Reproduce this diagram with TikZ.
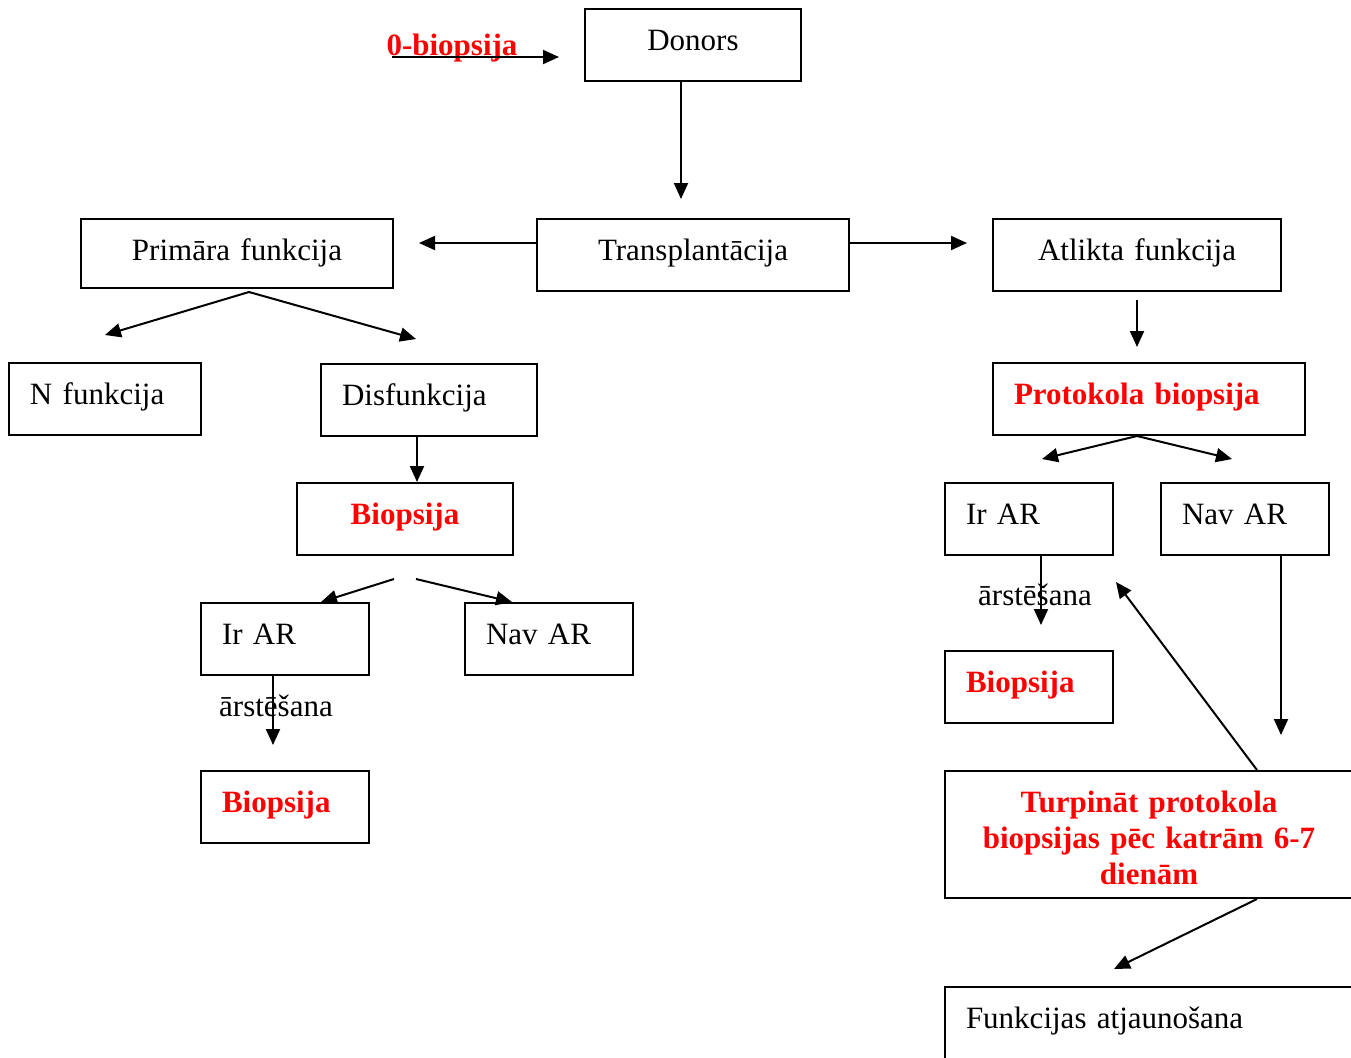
\documentclass[tikz,border=0pt]{standalone}
\usepackage{fontspec}
\setmainfont{Liberation Serif}
\usetikzlibrary{arrows.meta}
\newcommand{\teksts}{\fontsize{15.5pt}{18pt}\selectfont}

\begin{document}
\begin{tikzpicture}[x=0.5pt, y=-0.5pt, font=\teksts, >={Triangle[length=8pt, width=7pt]},
    kaste/.style={rectangle, draw=black, line width=1pt, inner xsep=10.5pt, inner ysep=0pt,
                  text height=20.5pt, text depth=15.5pt, align=left},
    sarkans/.style={text=red, font=\teksts\bfseries},
    bulta/.style={->, line width=1pt, draw=black},
    uzraksts/.style={inner sep=0pt}]

    \path [use as bounding box] (0,0) rectangle (1351,1057);
    \clip (0,0) rectangle (1351,1057);

    % ---------------- kastes ----------------
    \node (donors)  [kaste, text width=87pt, align=center]  at (693,45)   {Donors};
    \node (transpl) [kaste, text width=135pt, align=center] at (693,255)  {Transplantācija};
    \node (primara) [kaste, text width=135pt, align=center, text depth=14pt] at (237,253.5) {Primāra funkcija};
    \node (atlikta) [kaste, text width=123pt, align=center] at (1137,255) {Atlikta funkcija};
    \node (nfunk)   [kaste, text width=75pt]                at (105,399)  {N funkcija};
    \node (disf)    [kaste, text width=87pt]                at (429,400)  {Disfunkcija};
    \node (prot)    [kaste, sarkans, text width=135pt]      at (1149,399) {Protokola biopsija};
    \node (biop1)   [kaste, sarkans, text width=87pt, align=center] at (405,519) {Biopsija};
    \node (irA1)    [kaste, text width=63pt]                at (285,639)  {Ir AR};
    \node (navA1)   [kaste, text width=63pt]                at (549,639)  {Nav AR};
    \node (biop2)   [kaste, sarkans, text width=63pt]       at (285,807)  {Biopsija};
    \node (irA2)    [kaste, text width=63pt]                at (1029,519) {Ir AR};
    \node (navA2)   [kaste, text width=63pt]                at (1245,519) {Nav AR};
    \node (biop3)   [kaste, sarkans, text width=63pt]       at (1029,687) {Biopsija};
    \node (turp)    [kaste, sarkans, text width=183pt, align=center, text depth=43pt] at (1149,834.5)
                    {Turpināt protokola\\ biopsijas pēc katrām 6-7\\ dienām};
    \node (atjaun)  [kaste, text width=204pt, text depth=39.5pt] at (1170,1047) {Funkcijas atjaunošana};

    % ---------------- uzraksti ----------------
    \node (nulle) [sarkans, uzraksts, anchor=base] at (452,55)  {0-biopsija};
    \node (arst1) [uzraksts, anchor=base]          at (276,716) {ārstēšana};
    \node (arst2) [uzraksts, anchor=base]          at (1035,605) {ārstēšana};

    % ---------------- bultas ----------------
    \draw [bulta] ([xshift=3pt, yshift=-1pt]nulle.base west) -- ([xshift=-12.5pt, yshift=-6pt]donors.west);
    \draw [bulta] ([xshift=-6pt]donors.south) -- ([xshift=-6pt, yshift=9.5pt]transpl.north);
    \draw [bulta] ([yshift=6pt]transpl.west) -- ([xshift=12.5pt, yshift=5.25pt]primara.east);
    \draw [bulta] ([yshift=6pt]transpl.east) -- ([xshift=-12.5pt, yshift=6pt]atlikta.west);
    \draw [bulta] ([yshift=-4pt]atlikta.south) -- ([xshift=-6pt, yshift=7.5pt]prot.north);

    % kreisais zars
    \draw [bulta] ([xshift=6pt, yshift=-1.5pt]primara.south) -- ([yshift=13.5pt]nfunk.north);
    \draw [bulta] ([xshift=6pt, yshift=-1.5pt]primara.south) -- ([xshift=-6.5pt, yshift=12pt]disf.north);
    \draw [bulta] ([xshift=-6pt, yshift=1pt]disf.south) -- ([xshift=6pt]biop1.north);
    \draw [bulta] ([xshift=-5.5pt, yshift=-11.5pt]biop1.south) -- ([xshift=18pt]irA1.north);
    \draw [bulta] ([xshift=5.5pt, yshift=-11.5pt]biop1.south) -- ([xshift=-18.5pt]navA1.north);
    \draw [bulta] ([xshift=-6pt]irA1.south) -- ([xshift=-6pt, yshift=12.5pt]biop2.north);

    % labais zars
    \draw [bulta] ([xshift=-6pt]prot.south) -- ([xshift=6.5pt, yshift=11.5pt]irA2.north);
    \draw [bulta] ([xshift=-6pt]prot.south) -- ([xshift=-6.5pt, yshift=11.5pt]navA2.north);
    \draw [bulta] ([xshift=6pt]irA2.south) -- ([xshift=6pt, yshift=12.5pt]biop3.north);
    \draw [bulta] ([xshift=18pt]navA2.south) -- ([xshift=66pt, yshift=17.5pt]turp.north);
    \draw [bulta] ([xshift=54pt]turp.north) -- ([xshift=1pt, yshift=-31.5pt]irA2.east);
    \draw [bulta] ([xshift=54pt]turp.south) -- ([xshift=-28pt, yshift=8.5pt]atjaun.north);
\end{tikzpicture}
\end{document}
